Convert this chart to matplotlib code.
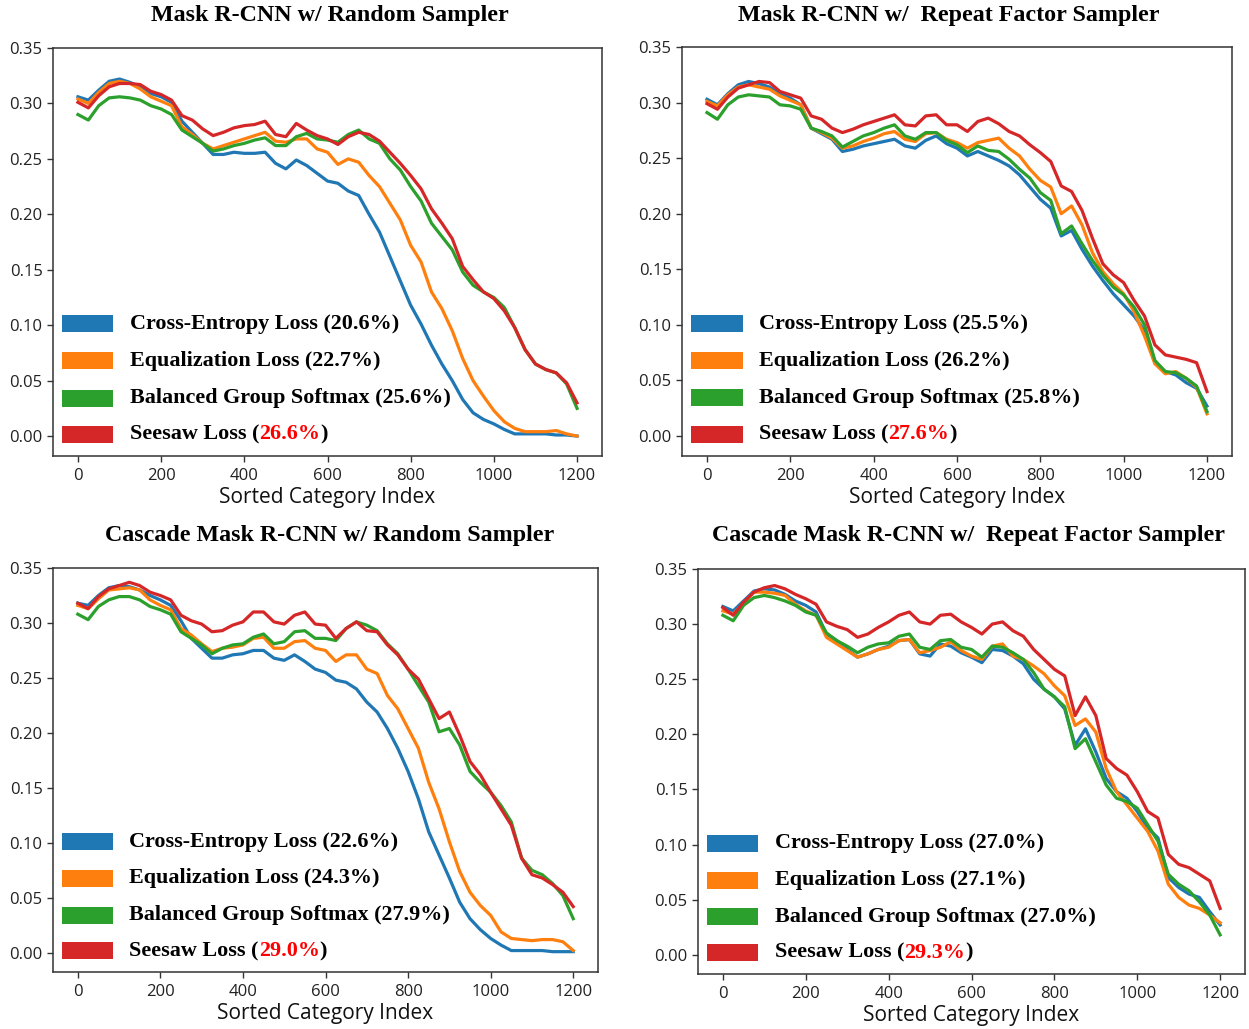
import matplotlib
matplotlib.use("Agg")
import matplotlib.pyplot as plt
from matplotlib.patches import Rectangle

# Sorted category index (sample positions)
X = list(range(0, 1201, 25))

# ---------- Mask R-CNN w/ Random Sampler ----------
tl_ce = [0.306, 0.303, 0.312, 0.320, 0.322, 0.319, 0.315, 0.309, 0.306, 0.301,
         0.284, 0.274, 0.264, 0.254, 0.254, 0.256, 0.255, 0.255, 0.256, 0.246,
         0.241, 0.249, 0.244, 0.237, 0.230, 0.228, 0.221, 0.217, 0.200, 0.184,
         0.162, 0.140, 0.118, 0.101, 0.082, 0.065, 0.050, 0.033, 0.021, 0.015,
         0.011, 0.006, 0.002, 0.002, 0.002, 0.002, 0.001, 0.001, 0.000]
tl_eql = [0.304, 0.300, 0.310, 0.318, 0.320, 0.318, 0.313, 0.306, 0.302, 0.298,
          0.279, 0.272, 0.264, 0.259, 0.262, 0.265, 0.268, 0.271, 0.274, 0.266,
          0.265, 0.268, 0.268, 0.259, 0.256, 0.245, 0.250, 0.247, 0.235, 0.225,
          0.210, 0.195, 0.172, 0.157, 0.130, 0.115, 0.095, 0.070, 0.050, 0.036,
          0.023, 0.013, 0.007, 0.004, 0.004, 0.004, 0.005, 0.002, 0.000]
tl_bgs = [0.290, 0.285, 0.298, 0.305, 0.306, 0.305, 0.303, 0.298, 0.295, 0.290,
          0.276, 0.270, 0.264, 0.257, 0.259, 0.262, 0.264, 0.267, 0.269, 0.262,
          0.262, 0.270, 0.273, 0.268, 0.267, 0.265, 0.272, 0.276, 0.268, 0.264,
          0.250, 0.240, 0.225, 0.212, 0.192, 0.180, 0.168, 0.148, 0.136, 0.130,
          0.125, 0.116, 0.098, 0.078, 0.065, 0.060, 0.057, 0.047, 0.025]
tl_ssl = [0.301, 0.296, 0.307, 0.315, 0.318, 0.318, 0.317, 0.311, 0.308, 0.303,
          0.289, 0.285, 0.277, 0.271, 0.274, 0.278, 0.280, 0.281, 0.284, 0.272,
          0.270, 0.282, 0.276, 0.271, 0.268, 0.263, 0.270, 0.274, 0.272, 0.266,
          0.256, 0.246, 0.235, 0.223, 0.205, 0.192, 0.178, 0.153, 0.141, 0.130,
          0.124, 0.113, 0.098, 0.078, 0.065, 0.060, 0.057, 0.048, 0.030]

# ---------- Mask R-CNN w/ Repeat Factor Sampler ----------
tr_ce = [0.303, 0.298, 0.308, 0.316, 0.319, 0.317, 0.314, 0.308, 0.304, 0.298,
         0.277, 0.272, 0.267, 0.256, 0.258, 0.261, 0.263, 0.265, 0.267, 0.261,
         0.259, 0.266, 0.270, 0.263, 0.259, 0.252, 0.256, 0.252, 0.248, 0.243,
         0.235, 0.224, 0.213, 0.205, 0.180, 0.185, 0.168, 0.153, 0.140, 0.128,
         0.118, 0.108, 0.095, 0.066, 0.058, 0.055, 0.048, 0.043, 0.027]
tr_eql = [0.301, 0.297, 0.307, 0.314, 0.316, 0.314, 0.312, 0.306, 0.302, 0.298,
          0.277, 0.273, 0.268, 0.259, 0.261, 0.265, 0.268, 0.272, 0.274, 0.267,
          0.265, 0.272, 0.273, 0.267, 0.264, 0.259, 0.264, 0.266, 0.268, 0.259,
          0.252, 0.240, 0.230, 0.224, 0.200, 0.207, 0.190, 0.165, 0.148, 0.137,
          0.128, 0.112, 0.090, 0.065, 0.056, 0.058, 0.052, 0.044, 0.020]
tr_bgs = [0.291, 0.285, 0.298, 0.305, 0.307, 0.306, 0.305, 0.298, 0.297, 0.294,
          0.277, 0.274, 0.270, 0.260, 0.265, 0.270, 0.273, 0.277, 0.280, 0.270,
          0.267, 0.273, 0.273, 0.266, 0.262, 0.255, 0.261, 0.257, 0.256, 0.249,
          0.240, 0.232, 0.219, 0.212, 0.182, 0.189, 0.173, 0.158, 0.145, 0.134,
          0.127, 0.116, 0.100, 0.068, 0.058, 0.057, 0.052, 0.045, 0.022]
tr_ssl = [0.299, 0.294, 0.305, 0.313, 0.316, 0.319, 0.318, 0.310, 0.307, 0.304,
          0.288, 0.285, 0.277, 0.273, 0.276, 0.280, 0.283, 0.286, 0.289, 0.280,
          0.279, 0.288, 0.289, 0.280, 0.280, 0.274, 0.283, 0.286, 0.281, 0.274,
          0.270, 0.262, 0.255, 0.247, 0.225, 0.220, 0.203, 0.178, 0.155, 0.145,
          0.138, 0.122, 0.108, 0.082, 0.073, 0.071, 0.069, 0.066, 0.040]

# ---------- Cascade Mask R-CNN w/ Random Sampler ----------
bl_ce = [0.318, 0.316, 0.325, 0.332, 0.334, 0.333, 0.330, 0.325, 0.321, 0.316,
         0.302, 0.286, 0.277, 0.268, 0.268, 0.271, 0.272, 0.275, 0.275, 0.268,
         0.266, 0.271, 0.265, 0.258, 0.255, 0.248, 0.246, 0.240, 0.228, 0.219,
         0.204, 0.186, 0.165, 0.140, 0.110, 0.089, 0.068, 0.046, 0.031, 0.021,
         0.013, 0.007, 0.002, 0.002, 0.002, 0.002, 0.001, 0.001, 0.001]
bl_eql = [0.316, 0.313, 0.322, 0.330, 0.331, 0.332, 0.330, 0.321, 0.316, 0.312,
          0.295, 0.289, 0.281, 0.274, 0.277, 0.278, 0.280, 0.286, 0.287, 0.277,
          0.277, 0.283, 0.284, 0.277, 0.275, 0.265, 0.271, 0.271, 0.258, 0.254,
          0.234, 0.222, 0.204, 0.186, 0.155, 0.131, 0.101, 0.074, 0.055, 0.043,
          0.034, 0.019, 0.013, 0.012, 0.011, 0.012, 0.012, 0.010, 0.002]
bl_bgs = [0.308, 0.303, 0.315, 0.321, 0.324, 0.324, 0.321, 0.315, 0.312, 0.308,
          0.292, 0.286, 0.280, 0.272, 0.277, 0.280, 0.281, 0.287, 0.290, 0.281,
          0.283, 0.292, 0.293, 0.286, 0.286, 0.284, 0.295, 0.301, 0.298, 0.293,
          0.281, 0.272, 0.258, 0.243, 0.228, 0.201, 0.204, 0.189, 0.165, 0.155,
          0.146, 0.134, 0.119, 0.086, 0.075, 0.071, 0.063, 0.052, 0.031]
bl_ssl = [0.318, 0.313, 0.324, 0.331, 0.334, 0.337, 0.334, 0.328, 0.325, 0.321,
          0.307, 0.302, 0.299, 0.292, 0.293, 0.298, 0.301, 0.310, 0.310, 0.301,
          0.299, 0.307, 0.310, 0.299, 0.298, 0.286, 0.295, 0.301, 0.293, 0.292,
          0.280, 0.271, 0.258, 0.249, 0.231, 0.213, 0.219, 0.198, 0.174, 0.162,
          0.146, 0.131, 0.116, 0.086, 0.071, 0.068, 0.062, 0.055, 0.042]

# ---------- Cascade Mask R-CNN w/ Repeat Factor Sampler ----------
br_ce = [0.316, 0.312, 0.321, 0.330, 0.332, 0.331, 0.327, 0.321, 0.317, 0.311,
         0.291, 0.285, 0.277, 0.270, 0.273, 0.277, 0.280, 0.285, 0.286, 0.273,
         0.271, 0.282, 0.280, 0.274, 0.270, 0.265, 0.277, 0.276, 0.271, 0.264,
         0.250, 0.241, 0.234, 0.223, 0.190, 0.205, 0.184, 0.160, 0.148, 0.142,
         0.130, 0.115, 0.106, 0.070, 0.061, 0.055, 0.052, 0.039, 0.027]
br_eql = [0.312, 0.309, 0.319, 0.329, 0.329, 0.328, 0.326, 0.318, 0.312, 0.308,
          0.288, 0.282, 0.276, 0.270, 0.273, 0.277, 0.279, 0.285, 0.286, 0.274,
          0.276, 0.279, 0.284, 0.276, 0.271, 0.268, 0.280, 0.282, 0.271, 0.268,
          0.262, 0.255, 0.244, 0.235, 0.208, 0.214, 0.202, 0.169, 0.148, 0.136,
          0.124, 0.112, 0.094, 0.064, 0.052, 0.045, 0.042, 0.036, 0.029]
br_bgs = [0.308, 0.303, 0.317, 0.324, 0.326, 0.324, 0.321, 0.317, 0.311, 0.308,
          0.292, 0.285, 0.280, 0.274, 0.279, 0.282, 0.283, 0.289, 0.291, 0.279,
          0.277, 0.285, 0.286, 0.279, 0.277, 0.270, 0.280, 0.279, 0.274, 0.268,
          0.256, 0.241, 0.234, 0.225, 0.187, 0.196, 0.175, 0.154, 0.142, 0.139,
          0.133, 0.118, 0.103, 0.073, 0.064, 0.058, 0.048, 0.036, 0.018]
br_ssl = [0.315, 0.308, 0.320, 0.329, 0.333, 0.335, 0.332, 0.327, 0.323, 0.318,
          0.302, 0.298, 0.295, 0.288, 0.291, 0.297, 0.302, 0.308, 0.311, 0.302,
          0.300, 0.308, 0.309, 0.302, 0.297, 0.291, 0.300, 0.302, 0.294, 0.289,
          0.277, 0.268, 0.259, 0.253, 0.217, 0.234, 0.217, 0.178, 0.169, 0.163,
          0.148, 0.130, 0.124, 0.091, 0.082, 0.079, 0.073, 0.067, 0.042]

method_names = ["Cross-Entropy Loss", "Equalization Loss",
                "Balanced Group Softmax", "Seesaw Loss"]
colors = ["#1f77b4", "#ff7f0e", "#2ca02c", "#d62728"]

titles = ["Mask R-CNN w/ Random Sampler",
          "Mask R-CNN w/  Repeat Factor Sampler",
          "Cascade Mask R-CNN w/ Random Sampler",
          "Cascade Mask R-CNN w/  Repeat Factor Sampler"]
scores = [["20.6%", "22.7%", "25.6%", "26.6%"],
          ["25.5%", "26.2%", "25.8%", "27.6%"],
          ["22.6%", "24.3%", "27.9%", "29.0%"],
          ["27.0%", "27.1%", "27.0%", "29.3%"]]
series = [[tl_ce, tl_eql, tl_bgs, tl_ssl],
          [tr_ce, tr_eql, tr_bgs, tr_ssl],
          [bl_ce, bl_eql, bl_bgs, bl_ssl],
          [br_ce, br_eql, br_bgs, br_ssl]]
yticks = [0.00, 0.05, 0.10, 0.15, 0.20, 0.25, 0.30, 0.35]
xticks = [0, 200, 400, 600, 800, 1000, 1200]

W, H = 1249, 1029
# axes boxes in pixels: left, top, right, bottom
boxes = [(53, 48, 602, 455.5), (682, 47, 1232, 455.5),
         (53, 568, 598, 972), (698, 569, 1245, 974)]
title_pos = [(330, 15), (949, 15), (330, 535), (969, 535)]

serif = ["Liberation Serif", "DejaVu Serif"]
sans = ["Open Sans", "DejaVu Sans"]

fig = plt.figure(figsize=(W / 100, H / 100), dpi=100)

for k in range(4):
    l, t, r, b = boxes[k]
    ax = fig.add_axes([l / W, 1 - b / H, (r - l) / W, (b - t) / H])
    for s, c in zip(series[k], colors):
        ax.plot(X, s, color=c, lw=2.3, solid_joinstyle="round")
    ax.set_xlim(-60, 1260)
    ax.set_ylim(-0.0175, 0.35)
    ax.set_yticks(yticks)
    ax.set_yticklabels([f"{v:.2f}" for v in yticks])
    ax.set_xticks(xticks)
    ax.set_xticklabels([str(v) for v in xticks])
    for lab in ax.get_xticklabels() + ax.get_yticklabels():
        lab.set_family(sans)
        lab.set_fontsize(12)
        lab.set_color("#222222")
    ax.tick_params(length=4, width=1, color="#333333")
    ax.tick_params(axis="x", pad=5)
    for sp in ax.spines.values():
        sp.set_color("#333333")
        sp.set_linewidth(1.1)
    ax.set_xlabel("Sorted Category Index", family=sans, fontsize=15,
                  color="#111111", labelpad=2)

    tx, ty = title_pos[k]
    fig.text(tx / W, 1 - ty / H, titles[k], ha="center", va="center",
             family=serif, fontweight="bold", fontsize=17.3)

    # manual legend
    rows = [0.323, 0.232, 0.141, 0.052]
    ph = 17.0 / (b - t)
    fs = 15.9
    for j in range(4):
        ax.add_patch(Rectangle((0.017, rows[j] - ph / 2), 0.093, ph,
                               transform=ax.transAxes, facecolor=colors[j],
                               edgecolor="none", zorder=5))
        if j < 3:
            ax.text(0.14, rows[j], f"{method_names[j]} ({scores[k][j]})",
                    transform=ax.transAxes, va="center", ha="left",
                    family=serif, fontweight="bold", fontsize=fs, zorder=6)
        else:
            t1 = ax.text(0.14, rows[j], f"{method_names[j]} (",
                         transform=ax.transAxes, va="center", ha="left",
                         family=serif, fontweight="bold", fontsize=fs, zorder=6)
            t2 = ax.annotate(scores[k][j], xy=(1, 0), xycoords=t1,
                             va="bottom", ha="left", color="#ff0000",
                             family=serif, fontweight="bold", fontsize=fs,
                             zorder=6)
            ax.annotate(")", xy=(1, 0), xycoords=t2, va="bottom", ha="left",
                        family=serif, fontweight="bold", fontsize=fs, zorder=6)

fig.savefig("out.png", dpi=100, facecolor="white")
